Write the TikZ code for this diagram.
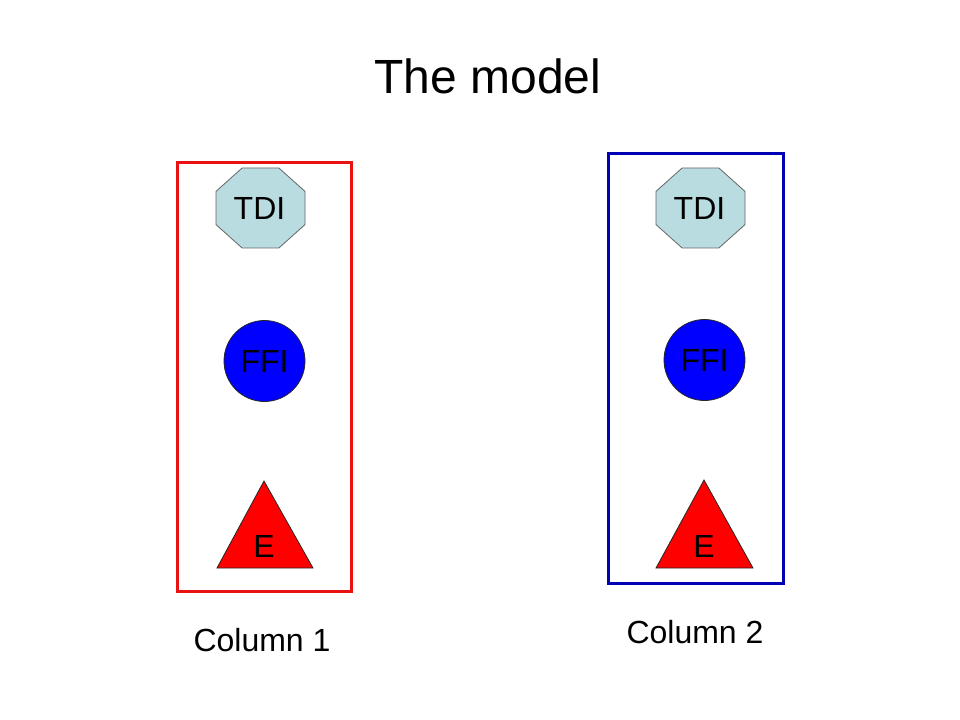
\documentclass[tikz,border=0pt]{standalone}
\usepackage{fontspec}
\setmainfont{Liberation Sans}
\usetikzlibrary{calc}
\definecolor{boxred}{RGB}{232,18,18}
\definecolor{boxblue}{RGB}{0,0,180}
\definecolor{tdicyan}{RGB}{184,220,224}
\tikzset{
	colbox/.style={line width=2.25pt},
	lbl/.style={inner sep=0pt, font=\fontsize{24}{28}\selectfont},
	octo/.style={fill=tdicyan, draw=black!60, line width=0.6pt},
	ball/.style={fill=blue, draw=black!85, line width=0.6pt},
	tri/.style={fill=red, draw=black!85, line width=0.6pt}
}
\def\octagon(#1,#2){\draw[octo] ($(#1,#2)+(-18.4,-40)$) -- ($(#1,#2)+(18.4,-40)$) -- ($(#1,#2)+(44.5,-16.6)$) -- ($(#1,#2)+(44.5,16.6)$) -- ($(#1,#2)+(18.4,40)$) -- ($(#1,#2)+(-18.4,40)$) -- ($(#1,#2)+(-44.5,16.6)$) -- ($(#1,#2)+(-44.5,-16.6)$) -- cycle;}

\begin{document}
\begin{tikzpicture}[x=0.75pt, y=-0.75pt]
		%%%%% START %%%%%
		\useasboundingbox (0, 0) rectangle (960, 720);
		
		\node[inner sep=0pt, font=\fontsize{36}{40}\selectfont] (title) at (488, 76.5) {The model};
		
		% column 1
		\draw[colbox, color=boxred] (177.5, 162.5) rectangle (351.5, 591.5);
		\octagon(260.5,208)
		\node[lbl] (tdi1) at (259.5, 208) {TDI};
		\draw[ball] (264.5, 361) circle (40.5);
		\node[lbl] (ffi1) at (264.5, 361) {FFI};
		\draw[tri] (264, 481) -- (313, 568) -- (217, 568) -- cycle;
		\node[lbl] (e1) at (264, 546.5) {E};
		\node[lbl] (col1) at (262, 640) {Column 1};
		
		% column 2
		\draw[colbox, color=boxblue] (608.5, 153.5) rectangle (783.5, 583.5);
		\octagon(700.5,208)
		\node[lbl] (tdi2) at (699.5, 208) {TDI};
		\draw[ball] (704.5, 360) circle (40.5);
		\node[lbl] (ffi2) at (704.5, 360) {FFI};
		\draw[tri] (704, 480) -- (753, 568) -- (656, 568) -- cycle;
		\node[lbl] (e2) at (704, 546.5) {E};
		\node[lbl] (col2) at (695, 632) {Column 2};
		
		%%%%% END %%%%%
\end{tikzpicture}
\end{document}
